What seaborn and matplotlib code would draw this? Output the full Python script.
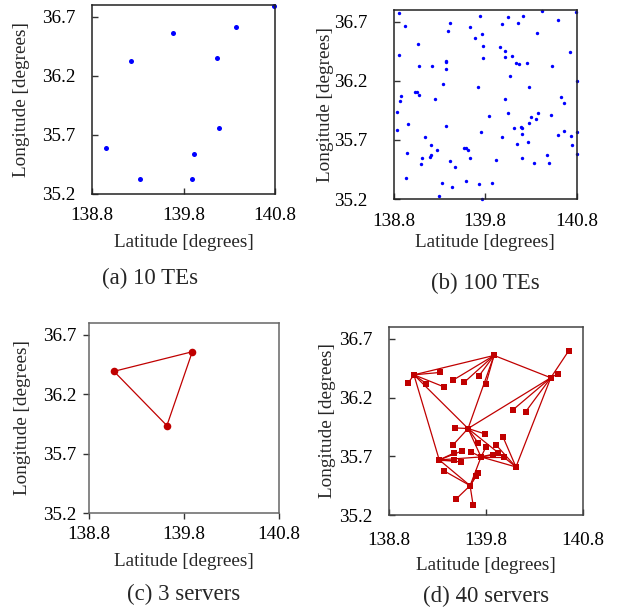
import numpy as np
import pandas as pd
import seaborn as sns
import matplotlib.pyplot as plt

# (a) 10 terminal equipments
te10_lon = [140.785, 140.37, 139.69, 139.23, 140.17, 140.19, 138.95, 139.92, 139.33, 139.89]
te10_lat = [36.79, 36.61, 36.56, 36.33, 36.35, 35.755, 35.59, 35.54, 35.33, 35.33]

# (b) 100 terminal equipments
te100_lon = [138.865, 138.920, 139.742, 140.044, 140.211, 140.415, 140.785, 140.589, 139.415, 139.633,
             139.389, 139.982, 140.160, 140.367, 139.764, 139.684, 139.065, 139.771, 139.956, 140.015,
             139.775, 140.011, 140.091, 138.865, 139.367, 139.371, 139.080, 139.225, 139.367, 140.138,
             140.167, 140.255, 140.524, 140.720, 140.073, 139.338, 139.716, 140.273, 140.800, 139.029,
             139.055, 139.073, 138.880, 138.876, 139.247, 140.018, 140.629, 140.658, 138.833, 140.047,
             140.371, 140.302, 140.349, 140.516, 139.836, 138.953, 139.367, 140.109, 140.189, 140.196,
             140.276, 138.840, 139.756, 140.196, 140.589, 140.658, 140.738, 140.796, 139.142, 139.978,
             140.269, 140.149, 139.204, 140.742, 138.942, 139.564, 139.585, 139.607, 139.269, 139.204,
             139.193, 139.113, 139.633, 140.469, 140.796, 139.105, 139.418, 139.465, 139.916, 140.204,
             140.331, 140.498, 138.938, 139.585, 139.327, 139.731, 139.876, 139.436, 139.295, 139.767]
te100_lat = [36.776, 36.663, 36.748, 36.739, 36.751, 36.790, 36.784, 36.714, 36.692, 36.652,
             36.619, 36.680, 36.689, 36.607, 36.599, 36.560, 36.512, 36.498, 36.487, 36.450,
             36.397, 36.402, 36.411, 36.416, 36.371, 36.363, 36.329, 36.324, 36.301, 36.352,
             36.346, 36.354, 36.329, 36.442, 36.239, 36.175, 36.147, 36.149, 36.200, 36.110,
             36.110, 36.082, 36.076, 36.031, 36.043, 36.043, 36.065, 36.015, 35.933, 35.930,
             35.925, 35.897, 35.877, 35.911, 35.905, 35.838, 35.815, 35.798, 35.807, 35.798,
             35.840, 35.784, 35.767, 35.753, 35.745, 35.773, 35.731, 35.765, 35.722, 35.725,
             35.686, 35.669, 35.661, 35.658, 35.588, 35.630, 35.630, 35.613, 35.616, 35.574,
             35.557, 35.543, 35.543, 35.574, 35.579, 35.498, 35.523, 35.472, 35.534, 35.543,
             35.506, 35.503, 35.374, 35.352, 35.332, 35.326, 35.332, 35.298, 35.225, 35.203]

# (c) 3 servers
srv3_lon = [139.886, 139.060, 139.618]
srv3_lat = [36.558, 36.393, 35.936]
srv3_links = [(0, 1), (0, 2), (1, 2)]

# (d) 40 servers (first 8 are the hubs)
srv40_lon = [139.886, 139.060, 140.471, 139.618, 139.321, 139.752, 140.112, 139.639,
             139.458, 139.577, 139.732, 139.803, 139.327, 139.002, 139.187, 139.368,
             140.656, 140.543, 140.081, 140.211, 139.485, 139.793, 139.464, 139.721,
             139.475, 139.557, 139.475, 139.547, 139.372, 139.649, 139.803, 139.875,
             139.927, 139.988, 139.978, 139.906, 139.495, 139.670, 139.721, 139.701]
srv40_lat = [36.558, 36.393, 36.368, 35.936, 35.669, 35.694, 35.609, 35.450,
             36.345, 36.328, 36.385, 36.319, 36.413, 36.325, 36.319, 36.291,
             36.598, 36.402, 36.095, 36.078, 35.941, 35.890, 35.797, 35.814,
             35.728, 35.745, 35.669, 35.652, 35.575, 35.737, 35.780, 35.711,
             35.728, 35.694, 35.865, 35.797, 35.336, 35.285, 35.558, 35.532]
srv40_links = [(0, 1), (0, 2), (0, 3), (1, 3), (1, 4), (2, 3), (2, 6), (3, 6), (3, 5),
               (4, 5), (4, 7), (5, 6), (5, 7),
               (8, 0), (9, 0), (10, 0), (11, 0), (12, 1), (13, 1), (14, 1), (15, 1),
               (16, 2), (17, 2), (18, 2), (19, 2), (20, 3), (21, 3), (22, 3), (23, 3),
               (24, 4), (25, 4), (26, 4), (27, 4), (28, 7), (29, 5), (30, 5), (31, 5),
               (32, 5), (33, 5), (34, 6), (35, 6), (36, 7), (37, 7), (38, 7), (39, 7)]

x_ticks = [138.8, 139.8, 140.8]
y_ticks = [35.2, 35.7, 36.2, 36.7]
captions = ["(a) 10 TEs", "(b) 100 TEs", "(c) 3 servers", "(d) 40 servers"]

BLUE = '#0000FF'
RED = '#C00000'
W, H = 618, 611

sns.set_theme(style='ticks')
plt.rcParams['font.family'] = ['Liberation Serif', 'DejaVu Serif']

fig = plt.figure(figsize=(W / 100, H / 100), dpi=100)


def make_axes(left, top, right, bottom):
    return fig.add_axes([left / W, 1 - bottom / H, (right - left) / W, (bottom - top) / H])


def links_df(lon, lat, links):
    rows = []
    for k, (i, j) in enumerate(links):
        rows.append({'edge': k, 'lon': lon[i], 'lat': lat[i]})
        rows.append({'edge': k, 'lon': lon[j], 'lat': lat[j]})
    return pd.DataFrame(rows)


def style(ax, direction, spine_color, xpad, ypad, ylab_x, xlab_y, cap_y, cap, cap_x):
    ax.set_xlim(138.8, 140.8)
    ax.set_ylim(35.2, 36.8)
    ax.set_xticks(x_ticks)
    ax.set_yticks(y_ticks)
    ax.set_xticklabels(['%.1f' % t for t in x_ticks])
    ax.set_yticklabels(['%.1f' % t for t in y_ticks])
    ax.tick_params(direction=direction, length=4.5, width=1, labelsize=13.8,
                   colors='#333333', labelcolor='black')
    ax.tick_params(axis='x', pad=xpad)
    ax.tick_params(axis='y', pad=ypad)
    for s in ax.spines.values():
        s.set_visible(True)
        s.set_color(spine_color)
        s.set_linewidth(1.1)
    ax.set_xlabel('Latitude [degrees]', fontsize=13.8)
    ax.set_ylabel('Longitude [degrees]', fontsize=13.8)
    ax.xaxis.label.set_va('center')
    ax.yaxis.label.set_va('center')
    bb = ax.get_position()
    ax.xaxis.set_label_coords(bb.x0 + bb.width / 2, 1 - xlab_y / H, transform=fig.transFigure)
    ax.yaxis.set_label_coords(ylab_x / W, bb.y0 + bb.height / 2, transform=fig.transFigure)
    ax.grid(False)
    fig.text(cap_x / W, 1 - cap_y / H, cap, fontsize=16.5, ha='center', va='center')


# (a)
ax_a = make_axes(92, 5, 275, 194)
sns.scatterplot(x=te10_lon, y=te10_lat, ax=ax_a, color=BLUE, s=13, linewidth=0, clip_on=False)
style(ax_a, 'in', '#222222', 9, 12, 22, 242, 278, captions[0], 150)

# (b)
ax_b = make_axes(393.5, 10, 577, 199)
sns.scatterplot(x=te100_lon, y=te100_lat, ax=ax_b, color=BLUE, s=6, linewidth=0, clip_on=False)
style(ax_b, 'in', '#222222', 10, 19, 326, 242, 283, captions[1], 485)

# (c)
ax_c = make_axes(89.3, 323, 279, 513)
sns.lineplot(data=links_df(srv3_lon, srv3_lat, srv3_links), x='lon', y='lat', units='edge',
             estimator=None, sort=False, color=RED, lw=0.9, ax=ax_c, legend=False)
sns.scatterplot(x=srv3_lon, y=srv3_lat, ax=ax_c, color=RED, s=30, linewidth=0, zorder=3)
style(ax_c, 'out', '#666666', 5, 5, 23, 562, 594, captions[2], 184)

# (d)
ax_d = make_axes(388.7, 327, 582.7, 515)
sns.lineplot(data=links_df(srv40_lon, srv40_lat, srv40_links), x='lon', y='lat', units='edge',
             estimator=None, sort=False, color=RED, lw=0.9, ax=ax_d, legend=False)
sns.scatterplot(x=srv40_lon, y=srv40_lat, ax=ax_d, color=RED, marker='s', s=14, linewidth=0, zorder=3)
style(ax_d, 'in', '#444444', 12, 12, 328, 565, 596, captions[3], 486)

fig.savefig('out.png', dpi=100)
